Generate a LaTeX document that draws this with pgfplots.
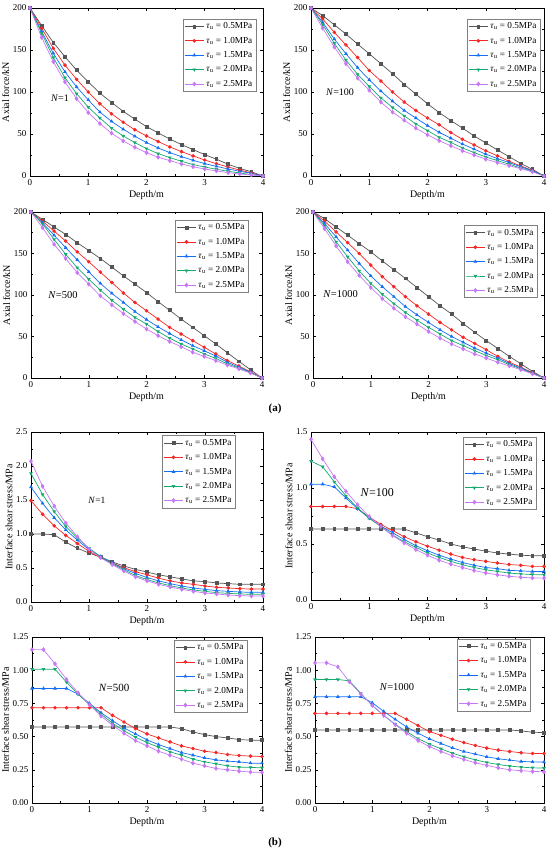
\documentclass[border=0pt]{standalone}
\usepackage{fontspec}
\setmainfont{Liberation Serif}
\usepackage{pgfplots}
\usepackage{pgfplotstable}
\pgfplotsset{compat=1.18}
\definecolor{cA}{RGB}{85,85,85}
\definecolor{cB}{RGB}{245,40,40}
\definecolor{cC}{RGB}{20,110,245}
\definecolor{cD}{RGB}{20,170,110}
\definecolor{cE}{RGB}{200,120,245}

\pgfplotsset{
  myax/.style={
    scale only axis, anchor=south west,
    xmin=0, xmax=4, xtick={0,1,2,3,4}, minor x tick num=1, minor y tick num=1,
    tick align=inside, major tick length=3pt, minor tick length=1.6pt,
    axis line style={black, line width=0.5pt},
    every tick/.style={black, line width=0.5pt},
    /pgf/number format/assume math mode=true,
    ticklabel style={font=\fontsize{9}{10}\selectfont},
    label style={font=\fontsize{10}{11}\selectfont},
    xlabel={Depth/m},
    xlabel style={yshift=2pt},
    ylabel style={yshift=-3pt},
    legend style={font=\fontsize{9.2}{10}\selectfont, draw=gray, line width=0.4pt,
      inner sep=1.5pt, row sep=2.8pt, cells={anchor=west}},
    legend image code/.code={\draw[mark repeat=2,mark phase=2] plot coordinates {(0cm,0cm) (0.34cm,0cm) (0.68cm,0cm)};},
    every axis plot/.append style={line width=0.7pt, mark size=1.45pt},
    cycle list={
      {cA, mark=square*},
      {cB, mark=*},
      {cC, mark=triangle*},
      {cD, mark=triangle*, every mark/.append style={rotate=180}},
      {cE, mark=diamond*, mark size=1.9pt}},
  },
  axF/.style={ymin=0, ymax=200, ytick={0,50,100,150,200}, ylabel={Axial force/kN}},
}
\newcommand{\leg}{\legend{\textit{τ}\textsubscript{u} = 0.5MPa, \textit{τ}\textsubscript{u} = 1.0MPa, \textit{τ}\textsubscript{u} = 1.5MPa, \textit{τ}\textsubscript{u} = 2.0MPa, \textit{τ}\textsubscript{u} = 2.5MPa}}
\newcommand{\five}[1]{%
  \addplot table[x=x,y=a]{#1};
  \addplot table[x=x,y=b]{#1};
  \addplot table[x=x,y=c]{#1};
  \addplot table[x=x,y=d]{#1};
  \addplot table[x=x,y=e]{#1};}

\pgfplotstableread{
x a b c d e
0 200 200 200 200 200
0.2 179 176 172 170 165
0.4 159 152 146 141 136
0.6 142 132 124 117 112
0.8 126 115 106 98 92
1.0 112 100 90.6 82 75.5
1.2 98.6 86 76 69 62.4
1.4 87.5 74 65 57 51
1.6 77 64 55.7 47.7 41.7
1.8 67.6 55 47.3 39.8 34.2
2.0 58.8 47.7 39.8 32.6 27.8
2.2 51.3 41 33.4 26.6 22.3
2.4 44 34.6 27.8 21.9 18.3
2.6 37.4 29 23 17.5 14.3
2.8 31.4 23.9 18.7 13.5 11
3.0 25.4 19 14.7 10.7 8.3
3.2 20 14.7 11.5 8 6
3.4 14 10.7 8.3 5.6 4
3.6 9 7 5.6 3.6 2.4
3.8 5 3.6 3.2 1.6 1.2
4.0 0 0 0 0 0
}\tAa
\pgfplotstableread{
x a b c d e
0 200 200 200 200 200
0.2 191 187 183 180.5 176
0.4 180 171 163 158 153.5
0.6 169 156 145.5 138 133.6
0.8 157 141 129 121 116.5
1.0 145.5 125.6 114.5 106.6 102
1.2 133.6 113 101 93 88
1.4 121.7 100 89 81.5 76
1.6 109 88 78 71.6 66.4
1.8 97.4 78 69 62 57
2.0 86 69 60 54 49
2.2 75.5 61 52 46 42
2.4 66 51.7 45 40 36
2.6 57 43.7 38 33.4 30
2.8 47.7 37 32 27.8 25
3.0 39.4 30 26 22.7 20
3.2 31 24 20.7 18.3 16
3.4 23 17.5 16 14 12.3
3.6 15 12 11 9.5 8.7
3.8 8 6.8 6.4 5.6 5
4.0 0 0 0 0 0
}\tAb
\pgfplotstableread{
x a b c d e
0 200 200 200 200 200
0.2 191 189 187 185.6 181
0.4 182 177 172 167 161
0.6 173 165 157 149 144
0.8 163 152 142.4 133 127
1.0 153.6 140 128 119 113
1.2 144 127.6 114 106 99
1.4 133.6 115 102 93.6 88
1.6 123 102.4 91 83 77.6
1.8 113 91 80 73 68
2.0 103 81 70.4 65 59
2.2 92 71 61.6 56 51
2.4 81.6 61 53.6 48 44
2.6 71 53 46 41 37.6
2.8 61 45 39 35 31
3.0 51 37 32.8 29 26
3.2 41 29 26.4 23.6 21
3.4 30.4 21 19 17 15.5
3.6 20 14.4 13 12 11
3.8 10 7.5 7 6.5 6
4.0 0 0 0 0 0
}\tAc
\pgfplotstableread{
x a b c d e
0 200 200 200 200 200
0.2 192 189 186 183.6 180
0.4 182 176 170 164 159
0.6 172 163 154 146 140
0.8 162 150 138 129 123.6
1.0 152 136 123 114 109
1.2 141 122 110 101 95.6
1.4 130.4 110 98 89.6 84
1.6 120 98 86 79 73.6
1.8 109 87 76 69.6 65
2.0 98 77 67 61 56
2.2 87 67 58 53 48
2.4 77 58 50 45 41
2.6 65.6 49 43 39 35
2.8 55 41.6 36 33 29
3.0 45 34 30 27 24
3.2 35.6 26 24 22 19
3.4 26 19 17.5 16 14.5
3.6 17 13 12 11 10
3.8 8 6.5 6 5.5 5
4.0 0 0 0 0 0
}\tAd
\pgfplotstableread{
x a b c d e
0 1.0 1.49 1.69 1.89 2.07
0.2 1.0 1.29 1.45 1.58 1.70
0.4 0.99 1.12 1.24 1.33 1.41
0.6 0.88 0.98 1.06 1.11 1.16
0.8 0.79 0.86 0.91 0.94 0.96
1.0 0.72 0.745 0.77 0.79 0.78
1.2 0.66 0.65 0.67 0.67 0.65
1.4 0.59 0.575 0.575 0.56 0.55
1.6 0.53 0.505 0.49 0.475 0.455
1.8 0.48 0.446 0.42 0.39 0.37
2.0 0.44 0.40 0.36 0.33 0.31
2.2 0.40 0.35 0.31 0.28 0.26
2.4 0.37 0.31 0.27 0.24 0.22
2.6 0.34 0.28 0.235 0.206 0.186
2.8 0.31 0.26 0.206 0.176 0.157
3.0 0.30 0.235 0.186 0.157 0.132
3.2 0.28 0.216 0.167 0.137 0.118
3.4 0.27 0.206 0.157 0.127 0.103
3.6 0.26 0.196 0.147 0.118 0.093
3.8 0.26 0.19 0.142 0.113 0.088
4.0 0.26 0.19 0.142 0.113 0.088
}\tBa
\pgfplotstableread{
x a b c d e
0 0.633 0.835 1.034 1.24 1.435
0.2 0.633 0.835 1.034 1.19 1.26
0.4 0.633 0.835 1.01 1.055 1.10
0.6 0.633 0.835 0.91 0.93 0.97
0.8 0.633 0.815 0.815 0.82 0.85
1.0 0.633 0.74 0.73 0.73 0.745
1.2 0.633 0.675 0.66 0.655 0.655
1.4 0.633 0.62 0.60 0.58 0.575
1.6 0.633 0.565 0.54 0.52 0.51
1.8 0.60 0.52 0.485 0.47 0.45
2.0 0.565 0.48 0.44 0.42 0.40
2.2 0.535 0.445 0.40 0.38 0.355
2.4 0.50 0.41 0.365 0.345 0.32
2.6 0.475 0.38 0.335 0.315 0.29
2.8 0.455 0.36 0.31 0.29 0.263
3.0 0.436 0.345 0.29 0.27 0.242
3.2 0.42 0.33 0.28 0.255 0.225
3.4 0.41 0.317 0.265 0.24 0.212
3.6 0.40 0.31 0.26 0.233 0.203
3.8 0.395 0.30 0.255 0.227 0.197
4.0 0.395 0.30 0.255 0.225 0.195
}\tBb
\pgfplotstableread{
x a b c d e
0 0.5725 0.7175 0.8625 1.0075 1.155
0.2 0.5725 0.7175 0.8625 1.0075 1.155
0.4 0.5725 0.7175 0.8625 1.0075 1.0475
0.6 0.5725 0.7175 0.8625 0.91 0.93
0.8 0.5725 0.7175 0.82 0.82 0.83
1.0 0.5725 0.7175 0.75 0.74 0.74
1.2 0.5725 0.7175 0.68 0.67 0.655
1.4 0.5725 0.66 0.62 0.60 0.585
1.6 0.5725 0.61 0.565 0.545 0.525
1.8 0.5725 0.56 0.52 0.495 0.47
2.0 0.5725 0.52 0.475 0.455 0.43
2.2 0.5725 0.49 0.44 0.42 0.39
2.4 0.5725 0.46 0.41 0.385 0.36
2.6 0.56 0.43 0.38 0.36 0.33
2.8 0.535 0.41 0.36 0.33 0.30
3.0 0.515 0.39 0.34 0.31 0.28
3.2 0.50 0.38 0.325 0.295 0.26
3.4 0.49 0.365 0.315 0.28 0.25
3.6 0.478 0.358 0.31 0.27 0.24
3.8 0.473 0.353 0.30 0.268 0.233
4.0 0.473 0.35 0.30 0.265 0.23
}\tBc
\pgfplotstableread{
x a b c d e
0 0.55 0.675 0.80 0.93 1.055
0.2 0.55 0.675 0.80 0.93 1.055
0.4 0.55 0.675 0.80 0.93 1.025
0.6 0.55 0.675 0.80 0.92 0.913
0.8 0.55 0.675 0.80 0.825 0.82
1.0 0.55 0.675 0.755 0.735 0.735
1.2 0.55 0.675 0.69 0.66 0.66
1.4 0.55 0.675 0.63 0.593 0.59
1.6 0.55 0.63 0.573 0.5375 0.525
1.8 0.55 0.583 0.525 0.485 0.47
2.0 0.55 0.5375 0.483 0.443 0.425
2.2 0.55 0.51 0.448 0.408 0.388
2.4 0.55 0.48 0.415 0.375 0.355
2.6 0.55 0.455 0.388 0.348 0.328
2.8 0.55 0.433 0.368 0.325 0.303
3.0 0.55 0.413 0.348 0.305 0.283
3.2 0.55 0.398 0.333 0.29 0.265
3.4 0.55 0.388 0.323 0.278 0.25
3.6 0.543 0.378 0.313 0.27 0.243
3.8 0.533 0.373 0.31 0.265 0.238
4.0 0.53 0.373 0.308 0.263 0.235
}\tBd

\begin{document}
\begin{tikzpicture}
\path[use as bounding box] (0pt,0pt) rectangle (550pt,853pt);

% ---------- (a) row 1 ----------
\begin{axis}[myax, axF, at={(30pt,677pt)}, width=233pt, height=168pt,
  legend style={at={(0.97,0.935)}, anchor=north east}]
\five{\tAa}
\leg
\node[anchor=west, font=\fontsize{10}{11}\selectfont] at (axis cs:0.3,93) {\textit{N}=1};
\end{axis}
\begin{axis}[myax, axF, at={(311pt,677pt)}, width=233pt, height=168pt,
  legend style={at={(0.983,0.935)}, anchor=north east}]
\five{\tAb}
\leg
\node[anchor=west, font=\fontsize{10}{11}\selectfont] at (axis cs:0.2,100) {\textit{N}=100};
\end{axis}
% ---------- (a) row 2 ----------
\begin{axis}[myax, axF, at={(31pt,475pt)}, width=231pt, height=166pt,
  legend style={at={(0.94,0.952)}, anchor=north east}]
\five{\tAc}
\leg
\node[anchor=west, font=\fontsize{10.5}{11}\selectfont] at (axis cs:0.24,100) {\textit{N}=500};
\end{axis}
\begin{axis}[myax, axF, at={(313pt,475pt)}, width=231pt, height=166pt,
  legend style={at={(0.97,0.92)}, anchor=north east}]
\five{\tAd}
\leg
\node[anchor=west, font=\fontsize{10.5}{11}\selectfont] at (axis cs:0.12,101) {\textit{N}=1000};
\end{axis}
\node[font=\bfseries\fontsize{11}{12}\selectfont] at (275pt,444pt) {(a)};

% ---------- (b) row 1 ----------
\begin{axis}[myax, at={(31pt,251pt)}, width=232pt, height=170pt,
  ymin=0, ymax=2.5, ytick={0,0.5,1,1.5,2,2.5},
  yticklabel style={/pgf/number format/.cd, fixed, fixed zerofill, precision=1},
  ylabel={Interface shear stress/MPa},
  legend style={at={(0.88,0.98)}, anchor=north east}]
\five{\tBa}
\leg
\node[anchor=west, font=\fontsize{9.5}{11}\selectfont] at (axis cs:0.93,1.5) {\textit{N}=1};
\end{axis}
\begin{axis}[myax, at={(311pt,253pt)}, width=233pt, height=168pt,
  ymin=0, ymax=1.5, ytick={0,0.5,1,1.5},
  yticklabel style={/pgf/number format/.cd, fixed, fixed zerofill, precision=1},
  ylabel={Interface shear stress/MPa},
  legend style={at={(0.966,0.97)}, anchor=north east}]
\five{\tBb}
\leg
\node[anchor=west, font=\fontsize{12}{13}\selectfont] at (axis cs:0.79,0.955) {\textit{N}=100};
\end{axis}
% ---------- (b) row 2 ----------
\begin{axis}[myax, at={(32pt,50pt)}, width=230pt, height=166pt,
  ymin=0, ymax=1.25, ytick={0,0.25,0.5,0.75,1,1.25},
  yticklabel style={/pgf/number format/.cd, fixed, fixed zerofill, precision=2},
  ylabel={Interface shear stress/MPa},
  legend style={at={(0.935,0.982)}, anchor=north east}]
\five{\tBc}
\leg
\node[anchor=west, font=\fontsize{11}{12}\selectfont] at (axis cs:1.1,0.87) {\textit{N}=500};
\end{axis}
\begin{axis}[myax, at={(315pt,50pt)}, width=229pt, height=166pt,
  ymin=0, ymax=1.25, ytick={0,0.25,0.5,0.75,1,1.25},
  yticklabel style={/pgf/number format/.cd, fixed, fixed zerofill, precision=2},
  ylabel={Interface shear stress/MPa},
  legend style={at={(0.94,0.99)}, anchor=north east}]
\five{\tBd}
\leg
\node[anchor=west, font=\fontsize{10.5}{11}\selectfont] at (axis cs:1.07,0.87) {\textit{N}=1000};
\end{axis}
\node[font=\bfseries\fontsize{11}{12}\selectfont] at (275pt,10pt) {(b)};
\end{tikzpicture}
\end{document}
